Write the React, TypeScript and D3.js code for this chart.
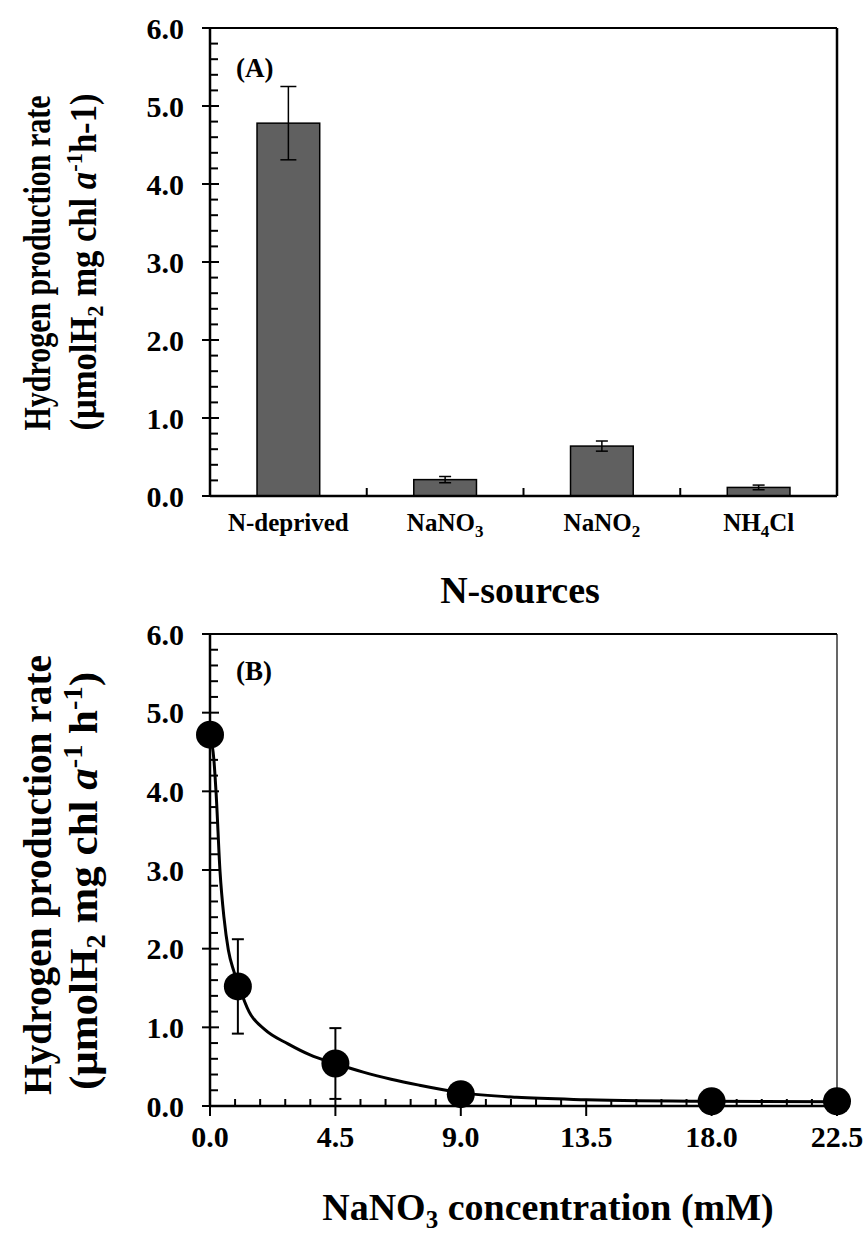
import React from 'react';
import * as d3 from 'd3';

// ---------- Data ----------
const categoriesA = ['N-deprived', 'NaNO3', 'NaNO2', 'NH4Cl'];
const labelPartsA: { t: string; sub?: boolean }[][] = [
  [{ t: 'N-deprived' }],
  [{ t: 'NaNO' }, { t: '3', sub: true }],
  [{ t: 'NaNO' }, { t: '2', sub: true }],
  [{ t: 'NH' }, { t: '4', sub: true }, { t: 'Cl' }],
];
const valuesA = [4.78, 0.21, 0.64, 0.11];
const errorsA = [0.47, 0.04, 0.065, 0.03];

const yTicks = [0, 1, 2, 3, 4, 5, 6];

const concB = [0, 1, 4.5, 9, 18, 22.5];
const valuesB = [4.72, 1.52, 0.54, 0.15, 0.06, 0.06];
const errorsB = [0.0, 0.6, 0.45, 0.0, 0.0, 0.0];
const xTicksB = [0, 4.5, 9, 13.5, 18, 22.5];

// fitted curve
const fitConc = [0, 0.14, 0.22, 0.36, 0.5, 0.66, 0.85, 1.04, 1.4, 1.97, 2.8, 3.59, 4.5, 5.5, 6.5, 7.5, 9, 11, 13.5, 18, 22.5];
const fitRate = [4.72, 4.4, 3.97, 2.98, 2.4, 1.98, 1.72, 1.52, 1.2, 0.97, 0.79, 0.65, 0.54, 0.43, 0.34, 0.265, 0.17, 0.11, 0.08, 0.06, 0.055];

const FONT = 'Liberation Serif, Times New Roman, Times, serif';

export default function App() {
  const W = 866, H = 1235;
  // Panel A
  const xA = d3.scaleBand<string>().domain(categoriesA).range([210, 837]).paddingInner(0.6).paddingOuter(0.3);
  const yA = d3.scaleLinear().domain([0, 6]).range([496, 28]);
  // Panel B
  const xB = d3.scaleLinear().domain([0, 22.5]).range([210, 837]);
  const yB = d3.scaleLinear().domain([0, 6]).range([1106, 634]);

  const minorY = d3.range(0, 6.0001, 0.2).filter((v) => Math.abs(v - Math.round(v)) > 1e-6);
  const minorXB = d3.range(0, 22.5001, 0.9).filter((v) => !xTicksB.some((t) => Math.abs(t - v) < 1e-6));
  const stepA = xA.step();
  const boundariesA = d3.range(1, categoriesA.length).map((i) => xA.range()[0] + i * stepA);

  const fitLine = d3
    .line<number>()
    .x((_, i) => xB(fitConc[i]))
    .y((d) => yB(d))
    .curve(d3.curveMonotoneX)(fitRate) as string;

  const txt = { fontFamily: FONT, fontWeight: 700 } as React.CSSProperties;

  const yAxis = (y: d3.ScaleLinear<number, number>, x0: number, key: string) => (
    <g key={key}>
      <line x1={x0} x2={x0} y1={y(0)} y2={y(6)} stroke="#000" strokeWidth={2.5} />
      {yTicks.map((t) => (
        <g key={'M' + t}>
          <line x1={x0 - 8} x2={x0 + 9} y1={y(t)} y2={y(t)} stroke="#000" strokeWidth={2} />
          <text x={184} y={y(t)} dy="0.35em" textAnchor="end" fontSize={30} style={txt}>
            {t.toFixed(1)}
          </text>
        </g>
      ))}
      {minorY.map((t) => (
        <line key={'m' + t} x1={x0} x2={x0 + 8} y1={y(t)} y2={y(t)} stroke="#000" strokeWidth={2} />
      ))}
    </g>
  );

  return (
    <svg width={W} height={H} style={{ position: 'absolute', left: 0, top: 0, background: '#fff', fontFamily: FONT }}>
      <rect width={W} height={H} fill="#fff" />
      {/* ---------------- Panel A ---------------- */}
      <g>
        <line x1={210} x2={837} y1={yA(6)} y2={yA(6)} stroke="#000" strokeWidth={2} />
        <line x1={837} x2={837} y1={yA(6)} y2={yA(0)} stroke="#000" strokeWidth={2.5} />
        {categoriesA.map((c, i) => {
          const x = xA(c)!;
          const bw = xA.bandwidth();
          const cx = x + bw / 2;
          const cap = i === 0 ? 8 : 6;
          return (
            <g key={c}>
              <rect x={x} y={yA(valuesA[i])} width={bw} height={yA(0) - yA(valuesA[i])} fill="#606060" stroke="#000" strokeWidth={1.5} />
              <line x1={cx} x2={cx} y1={yA(valuesA[i] + errorsA[i])} y2={yA(valuesA[i] - errorsA[i])} stroke="#000" strokeWidth={1.5} />
              <line x1={cx - cap} x2={cx + cap} y1={yA(valuesA[i] + errorsA[i])} y2={yA(valuesA[i] + errorsA[i])} stroke="#000" strokeWidth={1.5} />
              <line x1={cx - cap} x2={cx + cap} y1={yA(valuesA[i] - errorsA[i])} y2={yA(valuesA[i] - errorsA[i])} stroke="#000" strokeWidth={1.5} />
              <text x={cx} y={531} dy="0.35em" textAnchor="middle" fontSize={25} style={txt}>
                {labelPartsA[i].map((p, j) =>
                  p.sub ? (
                    <tspan key={j} fontSize={17} dy={6}>{p.t}</tspan>
                  ) : (
                    <tspan key={j} dy={j > 0 && labelPartsA[i][j - 1].sub ? -6 : 0}>{p.t}</tspan>
                  )
                )}
              </text>
            </g>
          );
        })}
        <line x1={210} x2={837} y1={yA(0)} y2={yA(0)} stroke="#000" strokeWidth={2.5} />
        {boundariesA.map((b) => (
          <line key={b} x1={b} x2={b} y1={yA(0)} y2={yA(0) - 8} stroke="#000" strokeWidth={2} />
        ))}
        {yAxis(yA, 210, 'yA')}
        <text x={236} y={77} fontSize={27} style={txt}>(A)</text>
        <text x={520} y={590} dy="0.35em" textAnchor="middle" fontSize={38} style={txt}>N-sources</text>
        <g transform="translate(50,263) rotate(-90)">
          <text x={0} y={0} textAnchor="middle" fontSize={37} style={txt} textLength={335} lengthAdjust="spacingAndGlyphs">
            Hydrogen production rate
          </text>
        </g>
        <g transform="translate(96,262) rotate(-90)">
          <text x={0} y={0} textAnchor="middle" fontSize={37} style={txt} textLength={337} lengthAdjust="spacingAndGlyphs">
            <tspan>(μmolH</tspan>
            <tspan fontSize={24} dy={7}>2</tspan>
            <tspan dy={-7}> mg chl </tspan>
            <tspan fontStyle="italic">a</tspan>
            <tspan fontSize={24} dy={-14}>-1</tspan>
            <tspan dy={14}>h-1)</tspan>
          </text>
        </g>
      </g>

      {/* ---------------- Panel B ---------------- */}
      <g>
        <line x1={210} x2={837} y1={yB(6)} y2={yB(6)} stroke="#000" strokeWidth={2} />
        <line x1={837} x2={837} y1={yB(6)} y2={yB(0)} stroke="#000" strokeWidth={1.2} />
        <line x1={210} x2={837} y1={yB(0)} y2={yB(0)} stroke="#000" strokeWidth={2.5} />
        {xTicksB.map((t) => (
          <g key={'xb' + t}>
            <line x1={xB(t)} x2={xB(t)} y1={yB(0) - 6} y2={yB(0) + 10} stroke="#000" strokeWidth={2} />
            <text x={xB(t)} y={1136} dy="0.35em" textAnchor="middle" fontSize={30} style={txt}>
              {t.toFixed(1)}
            </text>
          </g>
        ))}
        {minorXB.map((t) => (
          <line key={'mxb' + t} x1={xB(t)} x2={xB(t)} y1={yB(0)} y2={yB(0) - 7} stroke="#000" strokeWidth={2} />
        ))}
        {yAxis(yB, 210, 'yB')}
        <path d={fitLine} fill="none" stroke="#000" strokeWidth={3} />
        {concB.map((c, i) =>
          errorsB[i] > 0 ? (
            <g key={'e' + i}>
              <line x1={xB(c)} x2={xB(c)} y1={yB(valuesB[i] + errorsB[i])} y2={yB(valuesB[i] - errorsB[i])} stroke="#000" strokeWidth={2} />
              <line x1={xB(c) - 6} x2={xB(c) + 6} y1={yB(valuesB[i] + errorsB[i])} y2={yB(valuesB[i] + errorsB[i])} stroke="#000" strokeWidth={2} />
              <line x1={xB(c) - 6} x2={xB(c) + 6} y1={yB(valuesB[i] - errorsB[i])} y2={yB(valuesB[i] - errorsB[i])} stroke="#000" strokeWidth={2} />
            </g>
          ) : null
        )}
        {concB.map((c, i) => (
          <circle key={'p' + i} cx={xB(c)} cy={yB(valuesB[i])} r={14} fill="#000" />
        ))}
        <text x={236} y={680} fontSize={27} style={txt}>(B)</text>
        <text x={548} y={1207} dy="0.35em" textAnchor="middle" fontSize={38} style={txt}>
          <tspan>NaNO</tspan>
          <tspan fontSize={25} dy={8}>3</tspan>
          <tspan dy={-8}> concentration (mM)</tspan>
        </text>
        <g transform="translate(51,875) rotate(-90)">
          <text x={0} y={0} textAnchor="middle" fontSize={41} style={txt} textLength={440} lengthAdjust="spacingAndGlyphs">
            Hydrogen production rate
          </text>
        </g>
        <g transform="translate(97,881) rotate(-90)">
          <text x={0} y={0} textAnchor="middle" fontSize={41} style={txt} textLength={418} lengthAdjust="spacingAndGlyphs">
            <tspan>(μmolH</tspan>
            <tspan fontSize={27} dy={8}>2</tspan>
            <tspan dy={-8}> mg chl </tspan>
            <tspan fontStyle="italic">a</tspan>
            <tspan fontSize={27} dy={-15}>-1</tspan>
            <tspan dy={15}> h</tspan>
            <tspan fontSize={27} dy={-15}>-1</tspan>
            <tspan dy={15}>)</tspan>
          </text>
        </g>
      </g>
    </svg>
  );
}
